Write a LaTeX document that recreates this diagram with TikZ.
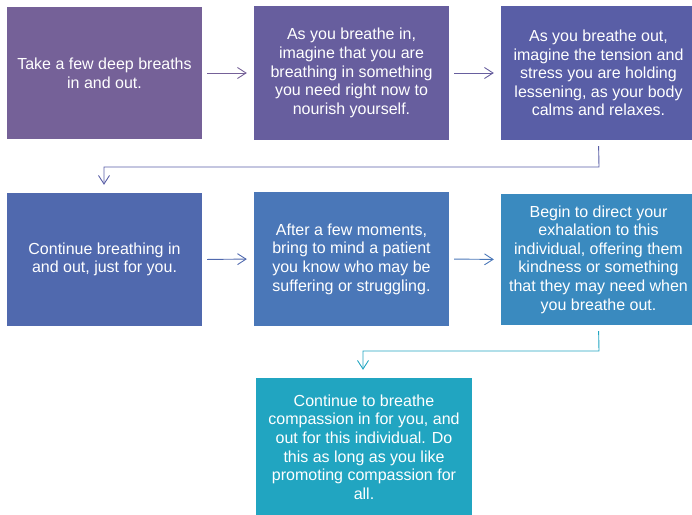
\documentclass[tikz,border=0pt]{standalone}
\usepackage{fontspec}
\setmainfont{Liberation Sans}
\usetikzlibrary{arrows.meta}
\definecolor{c1}{RGB}{117,97,152}
\definecolor{c2}{RGB}{103,94,158}
\definecolor{c3}{RGB}{89,94,166}
\definecolor{c4}{RGB}{80,105,174}
\definecolor{c5}{RGB}{74,119,184}
\definecolor{c6}{RGB}{58,138,191}
\definecolor{c7}{RGB}{33,165,193}
\tikzset{
  stepbox/.style={fill=#1, draw=none, text=white, align=center, inner sep=0pt,
    minimum width=195pt, minimum height=133pt,
    font=\fontsize{16pt}{18.6pt}\selectfont},
  flow/.style={draw=#1, line width=0.9pt, -{Straight Barb[length=8.5pt,width=11pt,line width=0.9pt]}},
}
\begin{document}
\begin{tikzpicture}[x=1pt,y=-1pt]
\useasboundingbox (0,0) rectangle (692,514);
\begin{scope}
\clip (0,0) rectangle (692,514);
\node[stepbox=c1, minimum height=132pt] (b1) at (104.5,73) {Take a few deep breaths\\in and out.};
\node[stepbox=c2, minimum height=134pt] (b2) at (351.5,73) {As you breathe in,\\imagine that you are\\breathing in something\\you need right now to\\nourish yourself.};
\node[stepbox=c3, minimum height=134pt] (b3) at (598.5,73) {As you breathe out,\\imagine the tension and\\stress you are holding\\lessening, as your body\\calms and relaxes.};
\node[stepbox=c4] (b4) at (104.5,259.5) {Continue breathing in\\and out, just for you.};
\node[stepbox=c5, minimum height=134pt] (b5) at (351.5,259) {After a few moments,\\bring to mind a patient\\you know who may be\\suffering or struggling.};
\node[stepbox=c6, minimum height=131pt] (b6) at (598.5,259.5) {Begin to direct your\\exhalation to this\\individual, offering them\\kindness or something\\that they may need when\\you breathe out.};
\node[stepbox=c7, minimum width=216pt, minimum height=138pt] (b7) at (364,447) {Continue to breathe\\compassion in for you, and\\out for this individual. Do\\this as long as you like\\promoting compassion for\\all.};
\end{scope}
\coordinate (k1) at (599,167);
\coordinate (k2) at (104,167);
\coordinate (k3) at (599,351);
\coordinate (k4) at (363,351);
\draw[flow=c1, shorten <=5pt, shorten >=7pt] (b1.east) -- (b2.west);
\draw[flow=c2, shorten <=5pt, shorten >=7pt] (b2.east) -- (b3.west);
\draw[flow=c4, shorten <=5pt, shorten >=7pt] (b4.east) -- (b5.west);
\draw[flow=c5, shorten <=5pt, shorten >=7pt] (b5.east) -- (b6.west);
\draw[flow=c3, shorten <=6pt, shorten >=8pt] (b3.south) -- (k1) -- (k2) -- (b4.north -| k2);
\draw[flow=c7, shorten <=6pt, shorten >=8pt] (b6.south) -- (k3) -- (k4) -- (b7.north -| k4);
\end{tikzpicture}
\end{document}
